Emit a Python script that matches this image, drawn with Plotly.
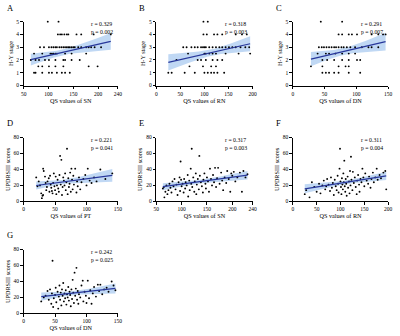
import numpy as np
import plotly.graph_objects as go

# ---------------- data ----------------
a_x = [98.6, 120.3,
       119, 123.6, 127, 132, 137, 140, 156.5, 166, 191, 225.5,
       83, 91, 101, 106, 110, 114, 117, 122, 126, 130, 133.5, 137, 140, 143, 146.6, 150, 153, 160, 166, 176, 181, 186, 193, 206,
       71, 87.5, 104, 107, 110, 114, 117, 133.5, 146.6, 176,
       64.5, 74, 81, 93, 101, 114, 130, 133.5, 146.6, 163,
       79.6, 87.5, 101, 114, 130, 181, 199,
       71, 74, 87.5, 101, 107, 117, 127, 133.5, 143]
a_y = [5, 5,
       4, 4, 4, 4, 4, 4, 4, 4, 4, 4,
       3, 3, 3, 3, 3, 3, 3, 3, 3, 3, 3, 3, 3, 3, 3, 3, 3, 3, 3, 3, 3, 3, 3, 3,
       2.5, 2.5, 2.5, 2.5, 2.5, 2.5, 2.5, 2.5, 2.5, 2.5,
       2, 2, 2, 2, 2, 2, 2, 2, 2, 2,
       1.5, 1.5, 1.5, 1.5, 1.5, 1.5, 1.5,
       1, 1, 1, 1, 1, 1, 1, 1, 1]

b_x = [98, 107,
       98, 105, 120, 127, 137, 165, 178, 188,
       56, 63, 73, 80, 86, 93, 97, 100, 103, 110, 117, 124, 131, 137, 144, 151, 158, 165, 175, 185, 193,
       66, 100, 103, 110, 117, 124, 144, 171, 195,
       42, 86, 93, 103, 117, 127, 137,
       69, 97, 114, 124,
       25, 32, 59, 80, 100, 107, 114, 120, 127, 141]
b_y = [5, 5,
       4, 4, 4, 4, 4, 4, 4, 4,
       3, 3, 3, 3, 3, 3, 3, 3, 3, 3, 3, 3, 3, 3, 3, 3, 3, 3, 3, 3, 3,
       2.5, 2.5, 2.5, 2.5, 2.5, 2.5, 2.5, 2.5, 2.5,
       2, 2, 2, 2, 2, 2, 2,
       1.5, 1.5, 1.5, 1.5,
       1, 1, 1, 1, 1, 1, 1, 1, 1, 1]

c_x = [44, 77.6,
       72, 77.6, 88, 93, 101, 124, 134.5, 142, 146,
       41, 45.5, 49, 53, 57, 61, 65, 68, 72, 76.5, 80, 85, 90.5, 98, 108.6, 119, 124, 134.5,
       39, 52, 57, 67, 77.6, 88, 98,
       46.5, 54, 65, 77.6, 88, 101, 106,
       28.5, 46.5, 72, 83, 88,
       46.5, 52, 57, 65, 72, 88, 106]
c_y = [5, 5,
       4, 4, 4, 4, 4, 4, 4, 4, 4,
       3, 3, 3, 3, 3, 3, 3, 3, 3, 3, 3, 3, 3, 3, 3, 3, 3, 3,
       2.5, 2.5, 2.5, 2.5, 2.5, 2.5, 2.5,
       2, 2, 2, 2, 2, 2, 2,
       1.5, 1.5, 1.5, 1.5, 1.5,
       1, 1, 1, 1, 1, 1, 1]

d_x = [20, 22, 24, 26, 28, 29, 30, 31, 31, 32, 34, 35, 36, 37, 38, 40, 41, 42, 43, 44,
       45, 46, 47, 48, 49, 50, 51, 52, 53, 54, 55, 56, 57, 58, 59, 60, 61, 62, 63, 64,
       65, 66, 67, 68, 69, 70, 71, 72, 73, 74, 75, 76, 77, 78, 79, 80, 82, 84, 85, 86,
       88, 90, 92, 95, 98, 100, 102, 105, 108, 112, 116, 122, 130, 141]
d_y = [30, 19, 25, 20, 10, 4, 7, 8, 41, 38, 31, 23, 14, 18, 25, 29, 12, 32, 21, 17,
       13, 10, 23, 35, 19, 14, 31, 9, 20, 27, 16, 12, 33, 57, 21, 52, 8, 18, 30, 26,
       20, 35, 14, 24, 66, 9, 29, 18, 22, 36, 12, 41, 27, 15, 32, 21, 41, 11, 25, 19,
       30, 15, 24, 28, 33, 20, 41, 26, 23, 30, 25, 40, 28, 35]

e_x = [63, 65, 66, 68, 70, 72, 74, 76, 78, 80, 82, 84, 86, 88, 90, 92, 94, 96, 97, 98,
       99, 100, 102, 104, 105, 107, 108, 110, 112, 113, 115, 116, 118, 119, 120, 121, 123, 125, 126, 128,
       129, 130, 132, 134, 135, 136, 138, 140, 142, 143, 145, 147, 148, 150, 152, 154, 156, 158, 160, 162,
       164, 166, 168, 170, 172, 175, 178, 180, 182, 185, 188, 190, 193, 196, 198, 200, 203, 206, 210, 215,
       219, 222, 226, 230]
e_y = [16, 18, 5, 12, 20, 9, 14, 22, 17, 11, 25, 19, 28, 15, 21, 8, 24, 30, 13, 50,
       27, 19, 22, 11, 28, 16, 24, 20, 33, 6, 26, 14, 41, 22, 66, 18, 30, 12, 25, 35,
       9, 21, 28, 15, 57, 32, 24, 19, 11, 27, 35, 22, 16, 30, 25, 12, 41, 28, 20, 33,
       24, 42, 18, 29, 42, 22, 36, 26, 14, 30, 23, 38, 28, 12, 35, 32, 37, 25, 30, 36,
       12, 38, 30, 34]

f_x = [25, 28, 35, 40, 45, 50, 55, 58, 62, 65, 68, 70, 72, 75, 78, 80, 82, 84, 86, 88,
       90, 92, 94, 95, 96, 98, 99, 100, 101, 102, 103, 104, 105, 106, 107, 108, 109, 110, 111, 112,
       113, 115, 116, 118, 119, 120, 121, 122, 123, 125, 126, 128, 130, 132, 134, 135, 137, 139, 140, 142,
       144, 146, 148, 150, 152, 155, 158, 160, 163, 165, 168, 170, 173, 176, 178, 182, 185, 190, 194, 196]
f_y = [9, 14, 5, 24, 18, 12, 22, 10, 20, 26, 15, 19, 28, 21, 13, 30, 17, 23, 8, 27,
       19, 14, 32, 22, 11, 41, 66, 25, 18, 9, 29, 21, 15, 35, 24, 51, 19, 12, 28, 22,
       7, 31, 17, 25, 10, 38, 20, 56, 27, 14, 37, 23, 30, 18, 9, 26, 33, 21, 12, 28,
       24, 41, 30, 19, 35, 26, 22, 31, 17, 28, 36, 24, 30, 41, 27, 33, 29, 36, 38, 15]

g_x = [28, 32, 35, 38, 40, 42, 44, 45, 46, 47, 48, 50, 51, 52, 54, 55, 56, 57, 58, 59,
       60, 61, 62, 63, 64, 65, 66, 67, 68, 69, 70, 71, 72, 73, 74, 75, 76, 77, 78, 79,
       80, 81, 82, 83, 84, 85, 86, 87, 88, 90, 92, 94, 95, 97, 99, 100, 102, 104, 106, 108,
       110, 112, 115, 118, 120, 122, 125, 128, 132, 135, 140, 143, 146]
g_y = [15, 20, 22, 28, 17, 30, 12, 25, 66, 8, 19, 23, 32, 14, 27, 6, 21, 35, 17, 26,
       10, 30, 22, 38, 15, 25, 19, 29, 11, 24, 20, 33, 16, 27, 23, 9, 30, 18, 42, 26,
       13, 51, 22, 31, 57, 17, 28, 12, 24, 20, 35, 41, 15, 27, 22, 13, 41, 19, 29, 12,
       25, 33, 21, 36, 28, 36, 24, 30, 32, 27, 40, 35, 29]

panel_letters = ["A", "B", "C", "D", "E", "F", "G"]
x_titles = ["QS values of SN", "QS values of RN", "QS values of DN", "QS values of PT",
            "QS values of SN", "QS values of RN", "QS values of DN"]
y_titles = ["H-Y stage", "H-Y stage", "H-Y stage", "UPDRSIII scores",
            "UPDRSIII scores", "UPDRSIII scores", "UPDRSIII scores"]
r_values = ["0.329", "0.318", "0.291", "0.221", "0.317", "0.311", "0.242"]
p_values = ["0.002", "0.003", "0.007", "0.041", "0.003", "0.004", "0.025"]
x_ranges = [[50, 240], [0, 200], [0, 150], [0, 150], [50, 240], [0, 200], [0, 150]]
x_ticks = [[50, 100, 150, 200, 240], [0, 50, 100, 150, 200], [0, 50, 100, 150],
           [0, 50, 100, 150], [50, 100, 150, 200, 240], [0, 50, 100, 150, 200], [0, 50, 100, 150]]
y_ranges = [[0, 5], [0, 5], [0, 5], [0, 80], [0, 80], [0, 80], [0, 80]]
y_ticks = [[0, 1, 2, 3, 4, 5]] * 3 + [[0, 20, 40, 60, 80]] * 4

panels = [(a_x, a_y), (b_x, b_y), (c_x, c_y), (d_x, d_y), (e_x, e_y), (f_x, f_y), (g_x, g_y)]

# ---------------- layout geometry ----------------
col_dom = [[0.0525, 0.2925], [0.39, 0.635], [0.7375, 0.98]]
row_dom = [[0.75, 0.9435], [0.399, 0.5923], [0.0595, 0.253]]
positions = [(0, 0), (0, 1), (0, 2), (1, 0), (1, 1), (1, 2), (2, 0)]

FONT = "Liberation Serif"
LINE_COLOR = "#27379b"
BAND_COLOR = "rgba(150,190,236,0.6)"

fig = go.Figure()
layout = dict(
    width=400, height=336,
    margin=dict(l=0, r=0, t=0, b=0),
    paper_bgcolor="white", plot_bgcolor="white",
    showlegend=False,
    font=dict(family=FONT, size=6, color="black"),
)
annotations = []

for i, (xs, ys) in enumerate(panels):
    k = "" if i == 0 else str(i + 1)
    xref, yref = "x" + k, "y" + k
    r, c = positions[i]
    x = np.array(xs, float)
    y = np.array(ys, float)
    n = len(x)
    slope, intercept = np.polyfit(x, y, 1)
    xl = np.linspace(x.min(), x.max(), 60)
    yl = slope * xl + intercept
    resid = y - (slope * x + intercept)
    s = np.sqrt(np.sum(resid ** 2) / (n - 2))
    sxx = np.sum((x - x.mean()) ** 2)
    se = s * np.sqrt(1.0 / n + (xl - x.mean()) ** 2 / sxx)
    t = 1.99
    lo, hi = yl - t * se, yl + t * se

    fig.add_trace(go.Scatter(x=np.concatenate([xl, xl[::-1]]), y=np.concatenate([hi, lo[::-1]]),
                             fill="toself", fillcolor=BAND_COLOR, line=dict(width=0),
                             mode="lines", hoverinfo="skip", xaxis=xref, yaxis=yref))
    fig.add_trace(go.Scatter(x=x, y=y, mode="markers", cliponaxis=False,
                             marker=dict(size=1.9, color="black"), xaxis=xref, yaxis=yref))
    fig.add_trace(go.Scatter(x=xl, y=yl, mode="lines", line=dict(color=LINE_COLOR, width=1.2),
                             xaxis=xref, yaxis=yref))

    axcommon = dict(showline=True, linecolor="black", linewidth=1, ticks="outside",
                    ticklen=2.5, tickwidth=1, tickcolor="black", showgrid=False, zeroline=False,
                    tickfont=dict(family=FONT, size=5.5, color="black"))
    layout["xaxis" + k] = dict(axcommon, domain=col_dom[c], anchor=yref, range=x_ranges[i],
                               tickvals=x_ticks[i],
                               title=dict(text=x_titles[i], font=dict(family=FONT, size=6.2), standoff=2))
    layout["yaxis" + k] = dict(axcommon, domain=row_dom[r], anchor=xref, range=y_ranges[i],
                               tickvals=y_ticks[i],
                               title=dict(text=y_titles[i], font=dict(family=FONT, size=6.2), standoff=2))
    annotations.append(dict(text=panel_letters[i], xref=xref + " domain", yref=yref + " domain",
                            x=-0.2, y=1.33, xanchor="left", yanchor="top", showarrow=False,
                            font=dict(family=FONT, size=8.5, color="black")))
    annotations.append(dict(text="r = " + r_values[i] + "<br>p = " + p_values[i],
                            xref=xref + " domain", yref=yref + " domain",
                            x=0.83, y=1.045, xanchor="center", yanchor="top", showarrow=False,
                            align="left", font=dict(family=FONT, size=5.8, color="black")))

layout["annotations"] = annotations
fig.update_layout(**layout)
fig.write_html("out.html", config={"displayModeBar": False},
               post_script="document.body.style.margin='0px';")
